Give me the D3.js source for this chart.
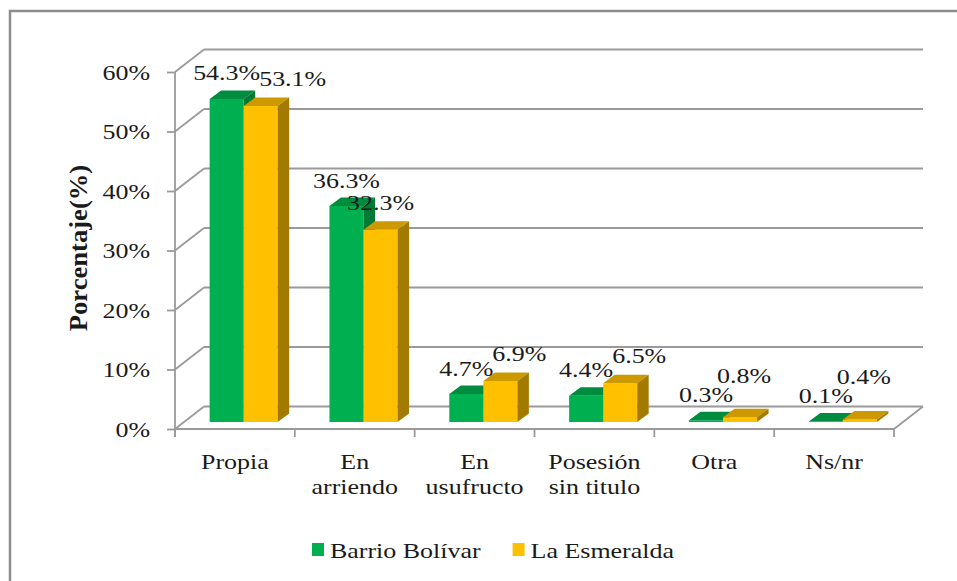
<!DOCTYPE html>
<html>
<head>
<meta charset="utf-8">
<script src="https://cdn.jsdelivr.net/npm/d3@7"></script>
<style>
  html, body { margin: 0; padding: 0; background: #fff; }
  svg { display: block; }
  text { font-family: "Liberation Serif", "Times New Roman", serif; fill: #1a1a1a; }
</style>
</head>
<body>
<svg id="chart" width="957" height="581"></svg>
<script>
// ---------- data ----------
const categories = ["Propia", "En\narriendo", "En\nusufructo", "Posesión\nsin titulo", "Otra", "Ns/nr"];
const seriesNames = ["Barrio Bolívar", "La Esmeralda"];
const barrioBolivar = [54.3, 36.3, 4.7, 4.4, 0.3, 0.1];
const laEsmeralda = [53.1, 32.3, 6.9, 6.5, 0.8, 0.4];
const yTicks = [0, 10, 20, 30, 40, 50, 60];
const yTitle = "Porcentaje(%)";

// ---------- layout / style ----------
const W = 957, H = 581;
const SX = 1.18;                 // horizontal text stretch of the original
const FONT = 22;
const gridColor = "#9a9a9a";
const colors = [
  { front: "#00B050", top: "#008C3F", side: "#007A35" },
  { front: "#FFC000", top: "#CC9A00", side: "#A37A00" }
];
const depth = { dx: 29, dy: -22.5 };      // wall depth
const barDepth = { dx: 11.5, dy: -8.5 };   // bar depth
const barOff = { dx: (depth.dx - barDepth.dx) / 2, dy: (depth.dy - barDepth.dy) / 2 };

const svg = d3.select("#chart");

// outer frame
svg.append("rect").attr("x", 10).attr("y", 11).attr("width", W + 10).attr("height", H + 10)
  .attr("fill", "#fff").attr("stroke", "#8c8c8c").attr("stroke-width", 2.5);

const x0 = d3.scaleBand().domain(d3.range(categories.length)).range([175, 894]).padding(0);
const x1 = d3.scaleBand().domain(d3.range(seriesNames.length)).range([0, x0.bandwidth()])
  .paddingInner(0).paddingOuter(0.76);
const y = d3.scaleLinear().domain([0, 60]).range([429, 72]);

const xL = x0.range()[0], xR = x0.range()[1];

// back wall gridlines + side wall diagonals
const grid = svg.append("g").attr("stroke", gridColor).attr("stroke-width", 1.8).attr("fill", "none");
yTicks.forEach(t => {
  grid.append("line")
    .attr("x1", xL + depth.dx).attr("y1", y(t) + depth.dy)
    .attr("x2", xR + depth.dx).attr("y2", y(t) + depth.dy);
  grid.append("line")
    .attr("x1", xL).attr("y1", y(t))
    .attr("x2", xL + depth.dx).attr("y2", y(t) + depth.dy);
});
// floor right edge
grid.append("line").attr("x1", xR).attr("y1", y(0)).attr("x2", xR + depth.dx).attr("y2", y(0) + depth.dy);

// y axis
const yAxis = d3.axisLeft(y).tickValues(yTicks).tickFormat(d => d + "%").tickSize(8).tickSizeOuter(0);
const gy = svg.append("g").attr("transform", `translate(${xL},0)`).call(yAxis);
gy.select(".domain").attr("stroke", gridColor).attr("stroke-width", 1.8)
  .attr("d", `M0,${y(60)}V${y(0) + 8}`);
gy.selectAll(".tick line").attr("stroke", gridColor).attr("stroke-width", 1.8);
gy.selectAll(".tick text")
  .attr("x", -25 / SX).attr("dy", "0.34em")
  .attr("transform", `scale(${SX},1)`)
  .style("font-family", '"Liberation Serif", "Times New Roman", serif')
  .style("font-size", FONT + "px").attr("fill", "#1a1a1a");

// x axis line and boundary ticks
const gx = svg.append("g").attr("stroke", gridColor).attr("stroke-width", 1.8);
gx.append("line").attr("x1", xL).attr("y1", y(0)).attr("x2", xR).attr("y2", y(0));
d3.range(categories.length + 1).forEach(i => {
  const xx = xL + i * x0.step();
  gx.append("line").attr("x1", xx).attr("y1", y(0)).attr("x2", xx).attr("y2", y(0) + 8);
});

// category labels
categories.forEach((c, i) => {
  const cx = x0(i) + x0.bandwidth() / 2;
  const lines = c.split("\n");
  lines.forEach((ln, k) => {
    svg.append("text")
      .attr("transform", `translate(${cx},${469 + k * 25}) scale(${SX},1)`)
      .attr("text-anchor", "middle").style("font-size", FONT + "px").text(ln);
  });
});

// bars
const seriesValues = [barrioBolivar, laEsmeralda];
const barsG = svg.append("g");
categories.forEach((c, i) => {
  seriesValues.forEach((vals, s) => {
    const v = vals[i];
    const xa = x0(i) + x1(s) + barOff.dx;
    const xb = xa + x1.bandwidth();
    const yb = y(0) + barOff.dy;
    const yt = y(v) + barOff.dy;
    const col = colors[s];
    const dx = barDepth.dx, dy = barDepth.dy;
    barsG.append("path").attr("fill", col.front)
      .attr("d", `M${xa},${yb}L${xb},${yb}L${xb},${yt}L${xa},${yt}Z`);
    barsG.append("path").attr("fill", col.top)
      .attr("d", `M${xa},${yt}L${xb},${yt}L${xb + dx},${yt + dy}L${xa + dx},${yt + dy}Z`);
    barsG.append("path").attr("fill", col.side)
      .attr("d", `M${xb},${yb}L${xb},${yt}L${xb + dx},${yt + dy}L${xb + dx},${yb + dy}Z`);
  });
});

// data labels with simple collision handling
const labelsG = svg.append("g");
function addLabel(txt, cx, by) {
  const t = labelsG.append("text").attr("text-anchor", "middle")
    .style("font-size", FONT + "px").text(txt)
    .attr("transform", `translate(${cx},${by}) scale(${SX},1)`);
  const w = t.node().getComputedTextLength() * SX;
  return { t, cx, by, w };
}
categories.forEach((c, i) => {
  const cg = x0(i) + x1(0) + x1.bandwidth() / 2 + barOff.dx;
  const cy = x0(i) + x1(1) + x1.bandwidth() / 2 + barOff.dx;
  const vg = barrioBolivar[i], vy = laEsmeralda[i];
  const g = addLabel(vg.toFixed(1) + "%", cg, y(vg) + barOff.dy - 18.5);
  const l = addLabel(vy.toFixed(1) + "%", cy, y(vy) + barOff.dy - 20);
  const gRight = g.cx + g.w / 2;
  const lLeft = l.cx - l.w / 2;
  const vOverlap = Math.abs(g.by - l.by) < 17;
  if (vOverlap && lLeft < gRight) {
    let ncx = l.cx, nby = l.by;
    if (vy > 1) {
      ncx = gRight - 1 + l.w / 2;
    } else {
      nby = g.by - 19;
      ncx = l.cx + 4;
    }
    l.t.attr("transform", `translate(${ncx},${nby}) scale(${SX},1)`);
  }
});

// y title
svg.append("text")
  .attr("transform", `translate(87,248) scale(${SX},1) rotate(-90) scale(1.21,1)`)
  .attr("text-anchor", "middle").style("font-size", FONT + "px").style("font-weight", "bold")
  .text(yTitle);

// legend
const legend = svg.append("g");
let lx = 312;
seriesNames.forEach((name, s) => {
  legend.append("rect").attr("x", lx).attr("y", 543).attr("width", 12).attr("height", 13)
    .attr("fill", colors[s].front);
  const t = legend.append("text").attr("transform", `translate(${lx + 18},558) scale(${SX},1)`)
    .style("font-size", FONT + "px").text(name);
  const w = t.node().getComputedTextLength() * SX;
  lx = lx + 18 + w + 32;
});
</script>
</body>
</html>
